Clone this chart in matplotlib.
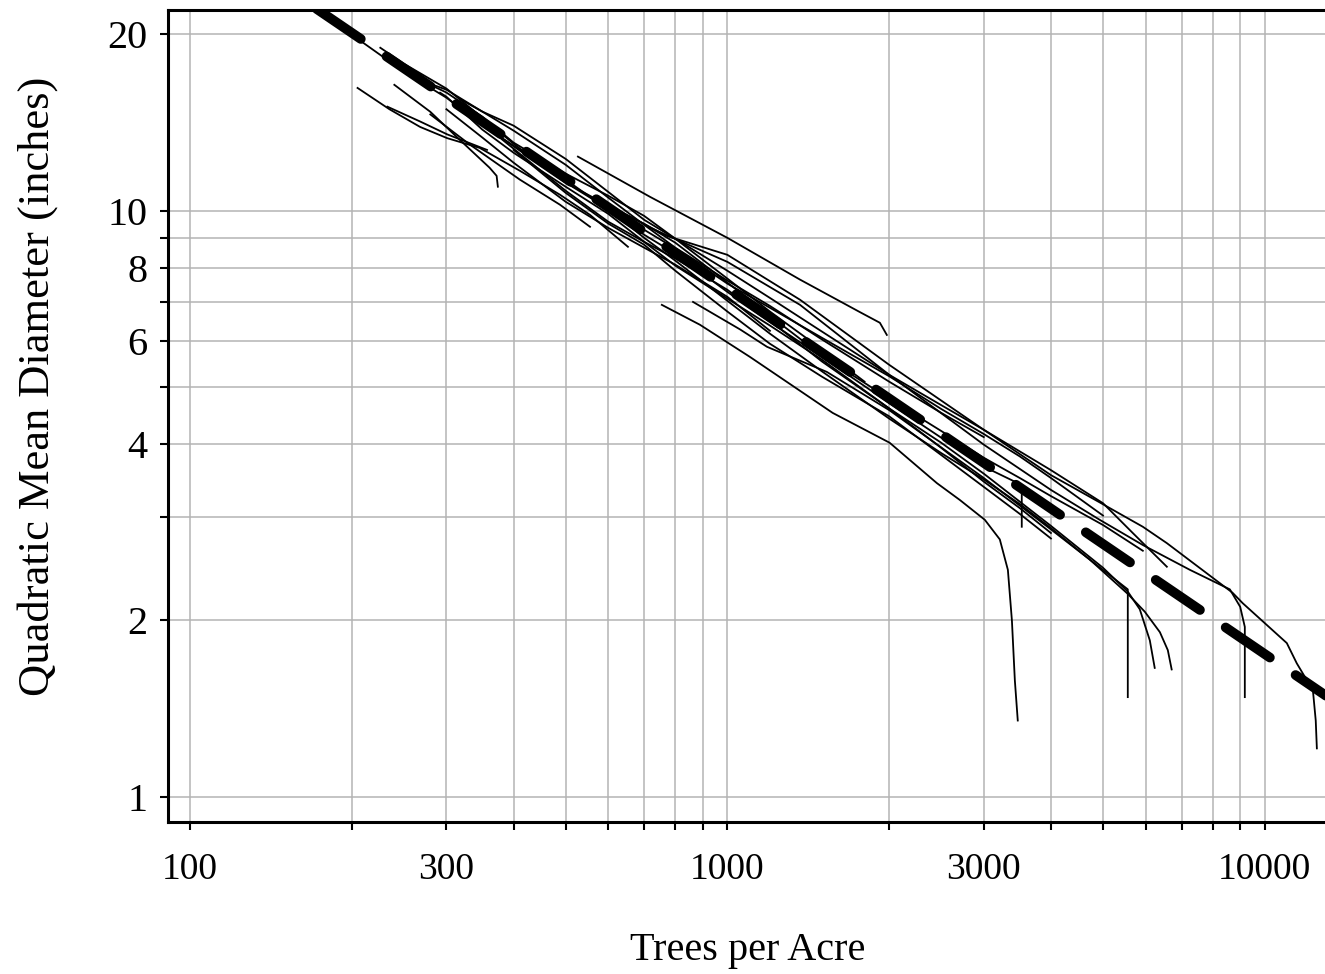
import matplotlib
matplotlib.use("Agg")
import matplotlib.pyplot as plt

plt.rcParams['font.family'] = ['Liberation Serif', 'DejaVu Serif']

# ---- axes ticks / labels
x_ticks = [100, 200, 300, 400, 500, 600, 700, 800, 900,
           1000, 2000, 3000, 4000, 5000, 6000, 7000, 8000, 9000, 10000]
x_labels = ['100', '', '300', '', '', '', '', '', '',
            '1000', '', '3000', '', '', '', '', '', '', '10000']
y_ticks = [1, 2, 3, 4, 5, 6, 7, 8, 9, 10, 20]
y_labels = ['1', '2', '', '4', '', '6', '', '8', '', '10', '20']

# ---- maximum size-density line (dashed)
limit_x = [172, 14500]
limit_y = [22.1, 1.39]

# ---- stand trajectories (trees per acre, QMD inches)
st01_x = [175, 200, 250, 300, 350, 400, 500, 600, 700, 800, 1000, 1200, 1500, 2000, 2500, 3000, 3427, 3530, 3530]
st01_y = [21.9, 19.97, 17.27, 15.59, 14.02, 12.91, 11.3, 10.04, 9.10, 8.45, 7.27, 6.46, 5.63, 4.70, 4.10, 3.66, 3.45, 3.40, 2.89]

st02_x = [205, 235, 268, 301, 346, 411, 488, 555, 653]
st02_y = [16.2, 14.9, 13.9, 13.3, 12.8, 11.7, 10.65, 9.84, 8.68]

st03_x = [233, 268, 301, 357]
st03_y = [15.05, 14.2, 13.5, 12.7]

st04_x = [240, 280, 318, 361, 372, 374]
st04_y = [16.4, 14.75, 13.2, 11.84, 11.47, 10.99]

st05_x = [280, 332, 411, 488, 555]
st05_y = [14.6, 12.96, 11.3, 10.24, 9.39]

st06_x = [268, 300, 350, 400, 500, 600, 700, 800, 1000, 1200, 1500, 2000, 2500, 3000]
st06_y = [16.7, 16.09, 14.76, 13.70, 11.98, 10.53, 9.46, 8.65, 7.60, 6.88, 6.03, 5.11, 4.52, 4.11]

st07_x = [292, 300, 350, 400, 500, 600, 700, 800, 1000, 1200, 1500, 2000, 2500, 3000, 3500, 4000]
st07_y = [15.9, 15.65, 13.75, 12.56, 10.99, 9.88, 8.85, 8.06, 7.08, 6.37, 5.57, 4.60, 3.94, 3.45, 3.11, 2.82]

st08_x = [280, 300, 350, 400, 500, 600, 700, 800, 1000, 1200, 1500, 1800]
st08_y = [16.4, 15.91, 14.47, 13.07, 11.57, 10.61, 9.80, 8.96, 7.66, 6.73, 5.80, 5.11]

st09_x = [346, 400, 500, 600, 700, 800, 1000, 1200, 1500, 2000, 2500, 3000, 4000, 5000, 5560, 5853, 6110, 6240]
st09_y = [14.2, 12.76, 10.82, 9.58, 8.85, 8.29, 7.33, 6.49, 5.53, 4.60, 4.02, 3.56, 2.90, 2.46, 2.24, 2.09, 1.85, 1.66]

st10_x = [300, 350, 400, 500, 600, 700, 800, 1000, 1200]
st10_y = [14.9, 13.33, 12.08, 10.36, 9.35, 8.65, 8.09, 7.13, 6.24]

st11_x = [385, 500, 600, 700, 800, 1000, 1200, 1500, 2000, 2500, 3000, 3500, 4000, 4725, 5560, 5980, 6380, 6600, 6710]
st11_y = [13.2, 11.17, 10.08, 8.99, 8.22, 7.02, 6.17, 5.32, 4.42, 3.86, 3.48, 3.16, 2.875, 2.54, 2.22, 2.07, 1.91, 1.78, 1.65]

st12_x = [318, 350, 400, 500, 600, 700, 800, 1000, 1200, 1500, 2000, 2500, 3000, 4000, 5000, 5680, 6573]
st12_y = [15.5, 14.76, 13.97, 12.26, 10.77, 9.65, 8.96, 7.90, 7.10, 6.22, 5.25, 4.66, 4.23, 3.61, 3.17, 2.82, 2.47]

st13_x = [226, 250, 300, 350, 400, 500, 600, 700, 800, 1000, 1200, 1500, 2000, 2500, 3000, 3500, 4000, 5000, 5930]
st13_y = [18.97, 17.82, 16.16, 14.41, 13.01, 11.17, 10.20, 9.50, 8.82, 7.54, 6.62, 5.66, 4.78, 4.21, 3.79, 3.50, 3.26, 2.91, 2.63]

st14_x = [400, 500, 600, 700, 800, 1000, 1200, 1500, 1800, 2000, 2500, 3000, 3500, 4000]
st14_y = [12.7, 10.73, 9.51, 8.75, 7.90, 6.73, 5.93, 5.21, 4.72, 4.46, 3.83, 3.38, 3.04, 2.76]

st15_x = [700, 800, 1000, 1200, 1500, 2000, 2500, 3000, 3500, 4000, 5000]
st15_y = [9.28, 8.62, 7.51, 6.83, 6.07, 5.22, 4.59, 4.16, 3.81, 3.50, 3.02]

st16_x = [527, 718, 1000, 1365, 1762, 1922, 1980]
st16_y = [12.37, 10.56, 8.99, 7.63, 6.72, 6.44, 6.14]

st17_x = [580, 687, 771, 1000, 1365, 2000, 3000, 4000, 4930, 5930, 6573, 8710, 9100, 10990, 11470, 12290, 12440, 12500]
st17_y = [10.4, 9.58, 9.06, 8.41, 7.05, 5.46, 4.23, 3.54, 3.18, 2.89, 2.71, 2.23, 2.14, 1.83, 1.69, 1.52, 1.35, 1.21]

st18_x = [718, 1000, 1365, 2000, 3000, 4000, 4930, 5930, 7255, 8610, 9000, 9180, 9180]
st18_y = [9.35, 8.18, 6.91, 5.25, 3.99, 3.34, 2.97, 2.69, 2.44, 2.26, 2.11, 1.95, 1.48]

st19_x = [755, 889, 1102, 1570, 2004, 2454, 2708, 3013, 3213, 3326, 3384, 3427, 3470]
st19_y = [6.91, 6.39, 5.63, 4.52, 4.02, 3.43, 3.21, 2.97, 2.75, 2.44, 2.0, 1.58, 1.35]

st20_x = [863, 1057, 1185, 1531, 2000, 3000, 4000, 4725, 5560, 5560]
st20_y = [6.99, 6.27, 5.86, 5.31, 4.57, 3.50, 2.86, 2.54, 2.26, 1.48]

stands = [(st01_x, st01_y), (st02_x, st02_y), (st03_x, st03_y), (st04_x, st04_y),
          (st05_x, st05_y), (st06_x, st06_y), (st07_x, st07_y), (st08_x, st08_y),
          (st09_x, st09_y), (st10_x, st10_y), (st11_x, st11_y), (st12_x, st12_y),
          (st13_x, st13_y), (st14_x, st14_y), (st15_x, st15_y), (st16_x, st16_y),
          (st17_x, st17_y), (st18_x, st18_y), (st19_x, st19_y), (st20_x, st20_y)]

fig = plt.figure(figsize=(13.25, 9.74), dpi=100)
ax = fig.add_axes([0.1268, 0.156, 0.8932, 0.8337])
ax.set_xscale('log')
ax.set_yscale('log')
ax.set_xlim(91, 14500)
ax.set_ylim(0.906, 22.0)

# grid at every tick
for xv in x_ticks:
    ax.axvline(xv, color='#b4b4b4', lw=1.1, zorder=0)
for yv in y_ticks:
    ax.axhline(yv, color='#b4b4b4', lw=1.1, zorder=0)

for sx, sy in stands:
    ax.plot(sx, sy, color='black', lw=1.3, zorder=2, solid_joinstyle='round')

dash, = ax.plot(limit_x, limit_y, color='black', lw=7, zorder=3,
                dash_capstyle='round', solid_capstyle='round')
dash.set_dashes([5.5, 3.2])

ax.xaxis.set_major_locator(matplotlib.ticker.FixedLocator(x_ticks))
ax.xaxis.set_minor_locator(matplotlib.ticker.NullLocator())
ax.set_xticklabels(x_labels)
ax.yaxis.set_major_locator(matplotlib.ticker.FixedLocator(y_ticks))
ax.yaxis.set_minor_locator(matplotlib.ticker.NullLocator())
ax.set_yticklabels(y_labels)

ax.tick_params(axis='x', direction='out', length=6, width=1.5, pad=16, labelsize=27)
ax.tick_params(axis='y', direction='out', length=6, width=1.5, pad=9, labelsize=29)

for sp in ax.spines.values():
    sp.set_linewidth(2.2)

ax.set_xlabel('Trees per Acre', fontsize=29)
ax.xaxis.set_label_coords(0.49, -0.136)
ax.set_ylabel('Quadratic Mean Diameter (inches)', fontsize=32)
ax.yaxis.set_label_coords(-0.093, 0.536)

fig.savefig('out.png', dpi=100)
